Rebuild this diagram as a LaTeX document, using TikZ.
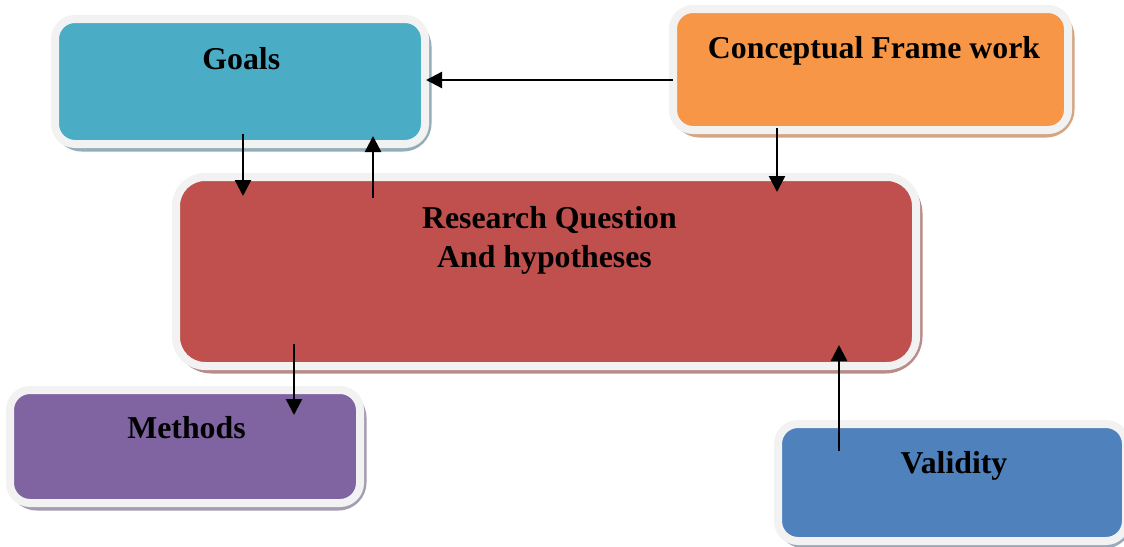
\documentclass[tikz,border=0pt]{standalone}
\usepackage{fontspec}
\setmainfont{Liberation Serif}
\usetikzlibrary{arrows.meta}
\definecolor{goalsC}{HTML}{4BACC6}
\definecolor{concC}{HTML}{F79646}
\definecolor{resC}{HTML}{C0504D}
\definecolor{methC}{HTML}{8064A2}
\definecolor{valC}{HTML}{4F81BD}
\definecolor{borderC}{HTML}{F2F2F2}
\definecolor{goalsS}{HTML}{93AEB8}
\definecolor{concS}{HTML}{D4A583}
\definecolor{resS}{HTML}{B98C8C}
\definecolor{methS}{HTML}{A49CB0}
\definecolor{valS}{HTML}{9AA8BB}
\tikzset{
  boxst/.style={draw=borderC, line width=8pt, inner sep=0pt, outer sep=0pt},
  shadowst/.style={inner sep=0pt, outer sep=0pt},
  lbl/.style={anchor=base, inner sep=0pt, font=\bfseries\fontsize{31.8}{38}\selectfont},
  arr/.style={line width=2.4pt, -{Triangle[length=16pt,width=16pt]}}
}
\begin{document}
\begin{tikzpicture}[x=1pt,y=-1pt]
\useasboundingbox[fill=white] (0,0) rectangle (1124,546);
% shadows
\node[shadowst, fill=goalsS, minimum width=378pt, minimum height=133pt, rounded corners=28pt] (goalsSh) at (242.5,85) {};
\node[shadowst, fill=concS, minimum width=403pt, minimum height=129pt, rounded corners=28pt] (concSh) at (873,73) {};
\node[shadowst, fill=resS, minimum width=748pt, minimum height=197pt, rounded corners=37pt] (resSh) at (548.5,275) {};
\node[shadowst, fill=methS, minimum width=358pt, minimum height=121pt, rounded corners=28pt] (methSh) at (187.5,450) {};
\node[shadowst, fill=valS, minimum width=356pt, minimum height=125pt, rounded corners=28pt] (valSh) at (954.5,486) {};
% boxes
\node[boxst, fill=goalsC, minimum width=370pt, minimum height=125pt, rounded corners=20pt] (goals) at (240,81.5) {};
\node[boxst, fill=concC, minimum width=395pt, minimum height=121pt, rounded corners=20pt] (conc) at (870.5,69.5) {};
\node[boxst, fill=resC, minimum width=740pt, minimum height=189pt, rounded corners=29pt] (res) at (546,271.5) {};
\node[boxst, fill=methC, minimum width=350pt, minimum height=113pt, rounded corners=20pt] (meth) at (185,446.5) {};
\node[boxst, fill=valC, minimum width=348pt, minimum height=117pt, rounded corners=20pt] (val) at (952,482.5) {};
% labels
\node[lbl] (goalsT) at (241.3,69) {Goals};
\node[lbl] (concT) at (874,58) {Conceptual Frame work};
\node[lbl] (resT1) at (549.5,228) {Research Question};
\node[lbl] (resT2) at (544.5,267) {And hypotheses};
\node[lbl] (methT) at (186.5,438) {Methods};
\node[lbl] (valT) at (954,473) {Validity};
% arrows
\draw[arr] ([yshift=-10.5pt]conc.west) -- ([xshift=1pt,yshift=1.5pt]goals.east);
\draw[arr] ([xshift=3pt,yshift=10pt]goals.south) -- ([xshift=-303pt,yshift=-19pt]res.north);
\draw[arr] ([xshift=-173pt,yshift=-21pt]res.north) -- ([xshift=133pt,yshift=8pt]goals.south);
\draw[arr] ([xshift=-93.5pt,yshift=2pt]conc.south) -- ([xshift=231pt,yshift=-15pt]res.north);
\draw[arr] ([xshift=-252pt,yshift=22pt]res.south) -- ([xshift=109pt,yshift=-25pt]meth.north);
\draw[arr] ([xshift=-113pt,yshift=-27pt]val.north) -- ([xshift=293pt,yshift=21pt]res.south);
\end{tikzpicture}
\end{document}
